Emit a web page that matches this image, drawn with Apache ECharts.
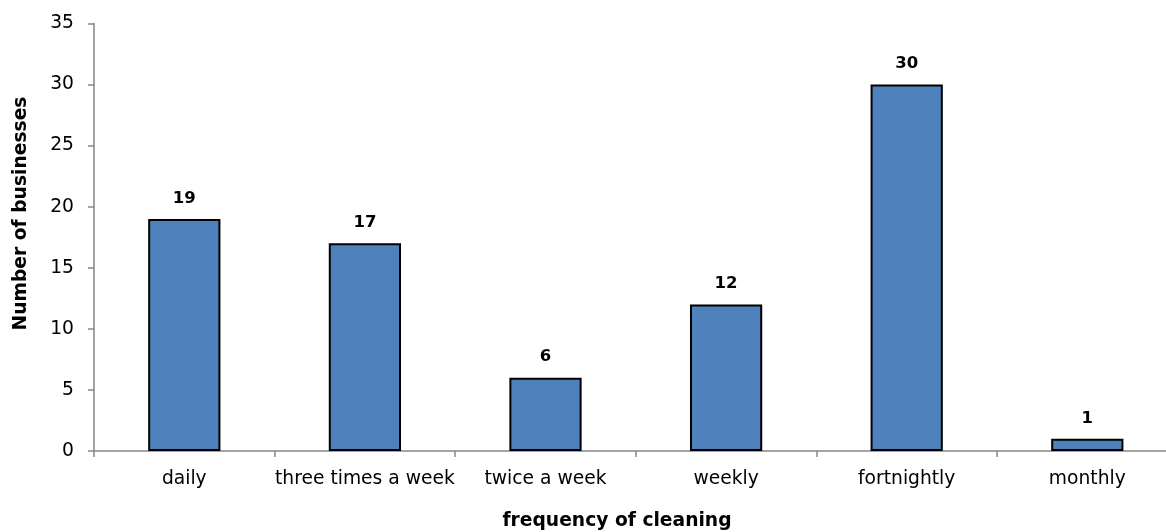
<!DOCTYPE html>
<html>
<head>
<meta charset="utf-8">
<script src="https://cdn.jsdelivr.net/npm/echarts@6/dist/echarts.min.js"></script>
<style>
  html, body { margin: 0; padding: 0; background: #fff; overflow: hidden; }
  #chart { width: 1180px; height: 532px; }
</style>
</head>
<body>
<div id="chart"></div>
<script>
// Cleaning frequency survey: number of businesses per frequency
const categories = ['daily', 'three times a week', 'twice a week', 'weekly', 'fortnightly', 'monthly'];
const businesses = [19, 17, 6, 12, 30, 1];
const yTicks = { min: 0, max: 35, interval: 5 };

const FONT = '"DejaVu Sans", Verdana, sans-serif';
const axisGrey = '#868686';

const chart = echarts.init(document.getElementById('chart'), null, { renderer: 'canvas' });

chart.setOption({
  animation: false,
  backgroundColor: '#ffffff',
  // the last category slot runs slightly past the visible page edge
  grid: { left: 94, right: 2.4, top: 23.5, bottom: 81, containLabel: false },
  xAxis: {
    type: 'category',
    data: categories,
    axisLine: { lineStyle: { color: axisGrey, width: 1.5 } },
    axisTick: { show: true, length: 6, alignWithLabel: false, lineStyle: { color: axisGrey, width: 1.5 } },
    axisLabel: { color: '#000', fontFamily: FONT, fontSize: 18.7, margin: 19, interval: 0 }
  },
  yAxis: {
    type: 'value',
    min: yTicks.min,
    max: yTicks.max,
    interval: yTicks.interval,
    axisLine: { show: true, lineStyle: { color: axisGrey, width: 1.5 } },
    axisTick: { show: true, length: 6, lineStyle: { color: axisGrey, width: 1.5 } },
    splitLine: { show: false },
    axisLabel: { color: '#000', fontFamily: FONT, fontSize: 18.7, margin: 20 }
  },
  graphic: [
    {
      type: 'text',
      x: 21,
      y: 213.5,
      rotation: Math.PI / 2,
      style: {
        text: 'Number of businesses',
        fill: '#000',
        font: 'bold 18.7px ' + FONT,
        textAlign: 'center',
        textVerticalAlign: 'middle'
      }
    },
    {
      type: 'text',
      x: 617,
      y: 521,
      style: {
        text: 'frequency of cleaning',
        fill: '#000',
        font: 'bold 18.7px ' + FONT,
        textAlign: 'center',
        textVerticalAlign: 'middle'
      }
    }
  ],
  series: [{
    type: 'bar',
    data: businesses,
    barWidth: '40%',
    itemStyle: { color: '#4F81BD', borderColor: '#000', borderWidth: 2 },
    label: {
      show: true,
      position: 'top',
      distance: 12,
      color: '#000',
      fontFamily: FONT,
      fontSize: 16.5,
      fontWeight: 'bold'
    }
  }]
});
</script>
</body>
</html>
